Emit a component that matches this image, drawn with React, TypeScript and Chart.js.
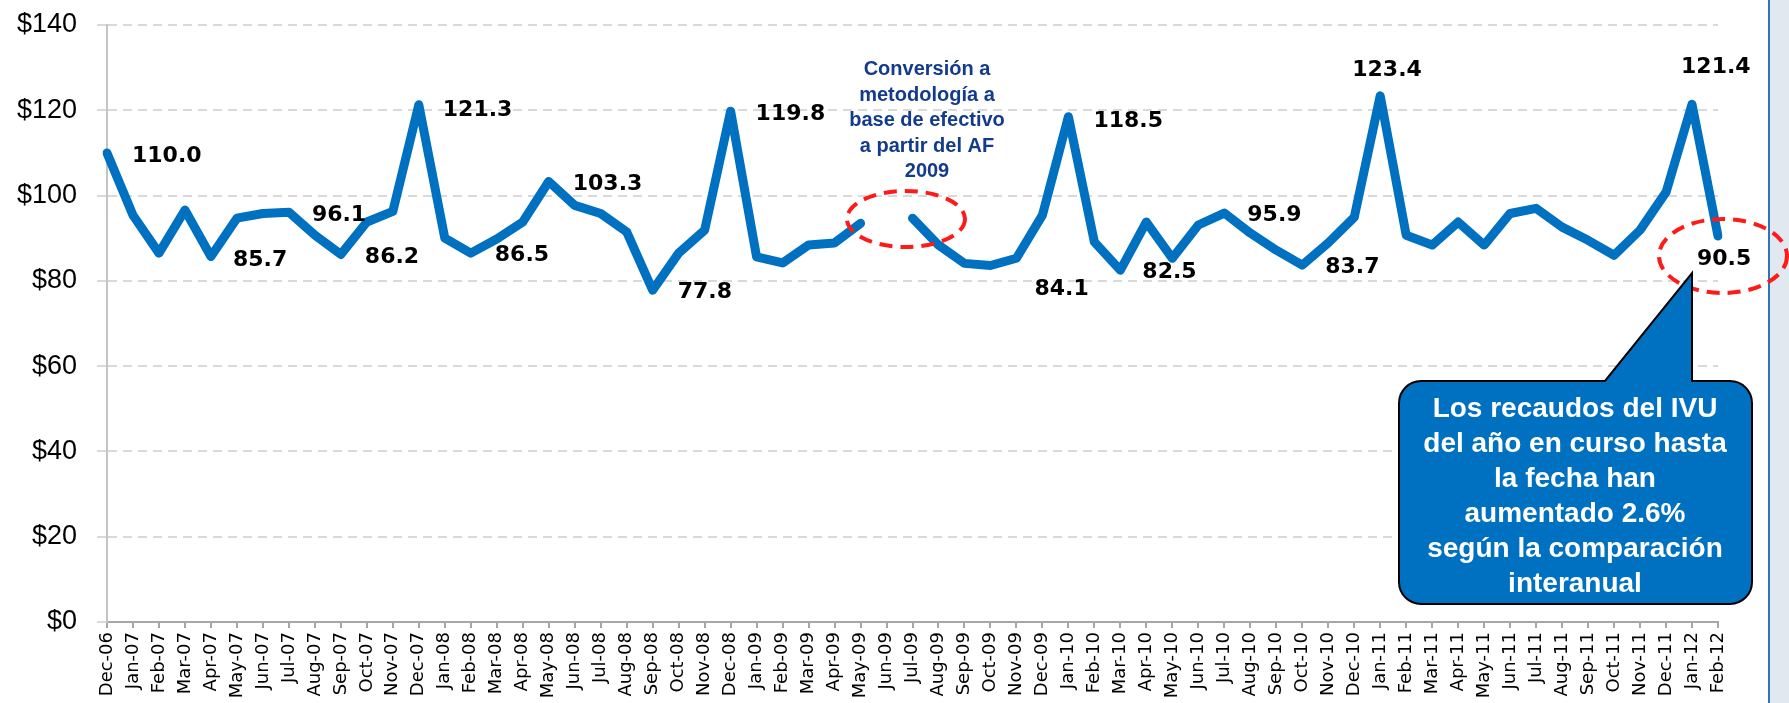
import React, { useEffect, useRef } from 'react';
import { Chart, registerables } from 'chart.js';

Chart.register(...registerables);

// ---------- data ----------
const months: string[] = [
  'Dec-06', 'Jan-07', 'Feb-07', 'Mar-07', 'Apr-07', 'May-07', 'Jun-07', 'Jul-07', 'Aug-07', 'Sep-07', 'Oct-07', 'Nov-07',
  'Dec-07', 'Jan-08', 'Feb-08', 'Mar-08', 'Apr-08', 'May-08', 'Jun-08', 'Jul-08', 'Aug-08', 'Sep-08', 'Oct-08', 'Nov-08',
  'Dec-08', 'Jan-09', 'Feb-09', 'Mar-09', 'Apr-09', 'May-09', 'Jun-09', 'Jul-09', 'Aug-09', 'Sep-09', 'Oct-09', 'Nov-09',
  'Dec-09', 'Jan-10', 'Feb-10', 'Mar-10', 'Apr-10', 'May-10', 'Jun-10', 'Jul-10', 'Aug-10', 'Sep-10', 'Oct-10', 'Nov-10',
  'Dec-10', 'Jan-11', 'Feb-11', 'Mar-11', 'Apr-11', 'May-11', 'Jun-11', 'Jul-11', 'Aug-11', 'Sep-11', 'Oct-11', 'Nov-11',
  'Dec-11', 'Jan-12', 'Feb-12',
];

const recaudosIVU: (number | null)[] = [
  110.0, 95.4, 86.5, 96.6, 85.7, 94.7, 95.8, 96.1, 90.7, 86.2, 93.8, 96.3,
  121.3, 90.0, 86.5, 89.8, 93.8, 103.3, 97.7, 95.8, 91.5, 77.8, 86.5, 91.9,
  119.8, 85.6, 84.2, 88.4, 88.9, 93.5, null, 94.7, 88.4, 84.1, 83.6, 85.3,
  95.4, 118.5, 89.1, 82.5, 93.8, 85.3, 93.1, 95.9, 91.2, 87.2, 83.7, 88.9,
  94.9, 123.4, 90.7, 88.4, 93.8, 88.4, 95.8, 97.0, 92.6, 89.5, 86.0, 91.9,
  100.8, 121.4, 90.5,
];

const yTickValues: number[] = [0, 20, 40, 60, 80, 100, 120, 140];

// indices of points that carry a value label
const labeledIdx: number[] = [0, 4, 7, 9, 12, 14, 17, 21, 24, 33, 37, 39, 43, 46, 49, 61, 62];
// label placement (left edge offset, vertical centre offset) relative to the point
const labelDx: number[] = [25, 22, 23, 24, 24, 24, 24, 25, 25, 70, 25, 22, 23, 23, -28, -11, -21];
const labelDy: number[] = [1, 1, 1, 1, 3, 0, 1, 0, 1, 24, 2, 0, 0, 0, -28, -39, 21];

const noteLines: string[] = ['Conversión a', 'metodología a', 'base de efectivo', 'a partir del AF', '2009'];
const calloutLines: string[] = [
  'Los recaudos del IVU',
  'del año en curso hasta',
  'la fecha han',
  'aumentado 2.6%',
  'según la comparación',
  'interanual',
];

const W = 1789;
const H = 703;

Chart.defaults.font.family = 'DejaVu Sans';
Chart.defaults.font.size = 18;

const overlayPlugin = {
  id: 'overlay',
  beforeDraw(chart: any) {
    const ctx = chart.ctx as CanvasRenderingContext2D;
    ctx.save();
    ctx.fillStyle = '#ffffff';
    ctx.fillRect(0, 0, W, H);
    // right side panel
    ctx.fillStyle = '#e1e8f0';
    ctx.fillRect(1770, 0, W - 1770, H);
    ctx.fillStyle = '#2e73c0';
    ctx.fillRect(1768, 0, 2, H);
    ctx.restore();
  },
  afterDraw(chart: any) {
    const ctx = chart.ctx as CanvasRenderingContext2D;
    const meta = chart.getDatasetMeta(0);
    ctx.save();

    // value labels
    ctx.fillStyle = '#000000';
    ctx.font = 'bold 22px "DejaVu Sans"';
    ctx.textAlign = 'left';
    ctx.textBaseline = 'alphabetic';
    labeledIdx.forEach((idx, k) => {
      const v = recaudosIVU[idx];
      const p = meta.data[idx];
      if (v == null || !p) return;
      ctx.fillText(v.toFixed(1), p.x + labelDx[k], p.y + labelDy[k] + 8);
    });

    // note text
    ctx.fillStyle = '#123b8c';
    ctx.font = 'bold 20px "Liberation Sans"';
    ctx.textAlign = 'center';
    noteLines.forEach((t, i) => {
      ctx.fillText(t, 927, 75 + i * 25.5);
    });

    // dashed red ellipses
    ctx.strokeStyle = '#ff1a1a';
    ctx.lineWidth = 4;
    ctx.setLineDash([13, 8]);
    ctx.beginPath();
    ctx.ellipse(906, 219, 59, 28, 0, 0, Math.PI * 2);
    ctx.stroke();
    ctx.beginPath();
    ctx.ellipse(1723, 256, 64, 37, 0, 0, Math.PI * 2);
    ctx.stroke();
    ctx.setLineDash([]);

    // callout box
    const L = 1399, R = 1752, T = 381, B = 604, r = 22;
    ctx.beginPath();
    ctx.moveTo(L + r, T);
    ctx.lineTo(1605, T);
    ctx.lineTo(1692, 273);
    ctx.lineTo(1692, T);
    ctx.lineTo(R - r, T);
    ctx.arcTo(R, T, R, T + r, r);
    ctx.lineTo(R, B - r);
    ctx.arcTo(R, B, R - r, B, r);
    ctx.lineTo(L + r, B);
    ctx.arcTo(L, B, L, B - r, r);
    ctx.lineTo(L, T + r);
    ctx.arcTo(L, T, L + r, T, r);
    ctx.closePath();
    ctx.fillStyle = '#0070c0';
    ctx.fill();
    ctx.strokeStyle = '#000000';
    ctx.lineWidth = 2;
    ctx.stroke();

    ctx.fillStyle = '#ffffff';
    ctx.font = 'bold 28px "Liberation Sans"';
    ctx.textAlign = 'center';
    calloutLines.forEach((t, i) => {
      ctx.fillText(t, 1575, 417 + i * 35);
    });

    ctx.restore();
  },
};

export default function App() {
  const canvasRef = useRef<HTMLCanvasElement | null>(null);

  useEffect(() => {
    const canvas = canvasRef.current;
    if (!canvas) return;
    const chart = new Chart(canvas, {
      type: 'line',
      data: {
        labels: months,
        datasets: [
          {
            data: recaudosIVU,
            borderColor: '#0070c0',
            borderWidth: 9,
            pointRadius: 0,
            tension: 0,
            spanGaps: false,
            borderCapStyle: 'round',
            borderJoinStyle: 'round',
            fill: false,
          },
        ],
      },
      options: {
        responsive: false,
        animation: false,
        devicePixelRatio: 1,
        layout: { padding: { top: 25, right: 71, left: 0, bottom: 0 } },
        plugins: {
          legend: { display: false },
          tooltip: { enabled: false },
          title: { display: false },
        },
        scales: {
          x: {
            type: 'category',
            offset: false,
            grid: {
              drawOnChartArea: false,
              drawTicks: true,
              tickLength: 6,
              color: '#a6a6a6',
              lineWidth: 2,
            },
            border: { display: true, color: '#a6a6a6', width: 2 },
            ticks: {
              autoSkip: false,
              maxRotation: 90,
              minRotation: 90,
              padding: 4,
              color: '#000000',
              font: { family: 'DejaVu Sans', size: 18 },
            },
            afterFit: (s: any) => {
              s.height = 81;
              s.paddingLeft = 0;
              s.paddingRight = 0;
            },
          },
          y: {
            min: 0,
            max: 140,
            afterBuildTicks: (s: any) => {
              s.ticks = yTickValues.map((v) => ({ value: v }));
            },
            ticks: {
              padding: 20,
              color: '#000000',
              font: { family: 'Liberation Sans', size: 27 },
              callback: (v: any) => '$' + v,
            },
            grid: {
              color: '#d9d9d9',
              lineWidth: 2,
              tickLength: 10,
              tickBorderDash: [9, 6],
            },
            border: { display: true, color: '#c4c4c4', width: 2, dash: [9, 6] },
            afterFit: (s: any) => {
              s.width = 107;
              s.paddingTop = 0;
              s.paddingBottom = 0;
            },
          },
        },
      },
      plugins: [overlayPlugin],
    });
    return () => chart.destroy();
  }, []);

  return (
    <div style={{ position: 'fixed', left: 0, top: 0, width: W, height: H }}>
      <canvas ref={canvasRef} width={W} height={H} style={{ display: 'block', width: W, height: H }} />
    </div>
  );
}
